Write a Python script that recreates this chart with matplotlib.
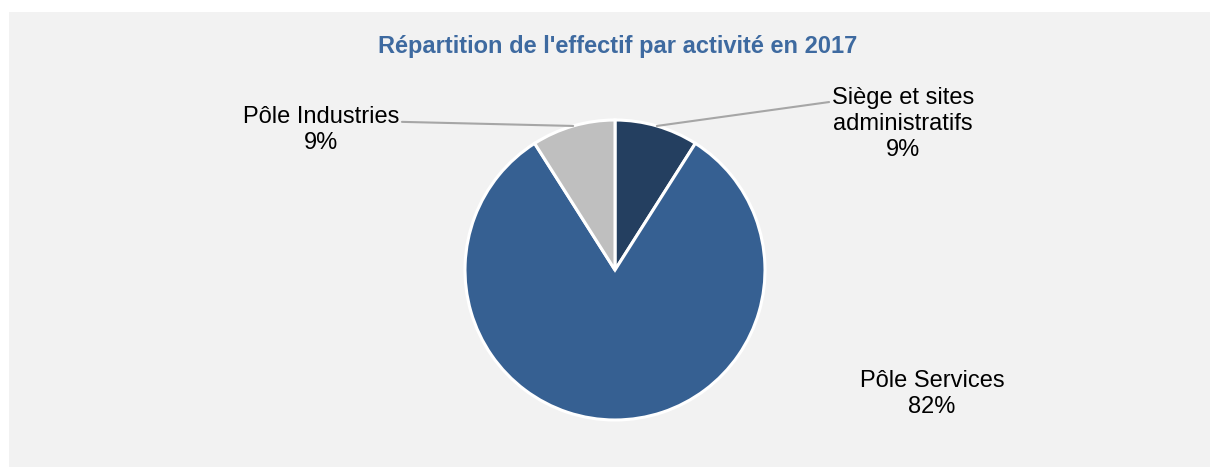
import numpy as np
import matplotlib.pyplot as plt
from matplotlib.patches import Rectangle

labels = ["Siège et sites\nadministratifs", "Pôle Services", "Pôle Industries"]
values = [9, 82, 9]
colors = ["#243F60", "#366092", "#BFBFBF"]
title = "Répartition de l'effectif par activité en 2017"

W, H = 1211, 467
fig = plt.figure(figsize=(W / 100, H / 100), dpi=100)
fig.patch.set_facecolor("white")
plt.rcParams['font.family'] = ['Liberation Sans', 'DejaVu Sans']

# grey chart area
fig.patches.append(Rectangle((9 / W, 0), (1210 - 9) / W, (H - 12) / H,
                             transform=fig.transFigure, facecolor="#F2F2F2",
                             edgecolor="none", zorder=-1))

fig.text(618 / W, 1 - 46 / H, title, ha="center", va="center",
         fontsize=17, fontweight="bold", color="#3E6AA0")

# pie centre (615, 270), radius 150 px
cx, cy, r = 615, 270, 150
ax = fig.add_axes([(cx - r) / W, (H - cy - r) / H, 2 * r / W, 2 * r / H])

wedges, _ = ax.pie(values, colors=colors, startangle=90, counterclock=False,
                   radius=1, wedgeprops=dict(edgecolor="white", linewidth=2.2))
ax.set_xlim(-1, 1)
ax.set_ylim(-1, 1)
ax.axis("off")


def px(x, y):
    return ((x - cx) / r, (cy - y) / r)


fs = 17
# label positions in pixels (centre of text block)
label_pos = [(903, 124), (932, 394), (321, 130)]
texts = [f"{l}\n{v}%" for l, v in zip(labels, values)]

for i, (w, t, pos) in enumerate(zip(wedges, texts, label_pos)):
    mid = np.deg2rad((w.theta1 + w.theta2) / 2)
    edge = (np.cos(mid), np.sin(mid))
    if i == 1:
        ax.text(*px(*pos), t, ha="center", va="center", fontsize=fs,
                linespacing=1.25, clip_on=False)
        continue
    rel = (0, 0.8) if i == 0 else (1, 0.67)
    ax.annotate(t, xy=edge, xytext=px(*pos), ha="center", va="center",
                fontsize=fs, linespacing=1.25, annotation_clip=False,
                arrowprops=dict(arrowstyle="-", color="#A6A6A6", lw=1.5,
                                shrinkA=0, shrinkB=0, relpos=rel))

fig.savefig("out.png", dpi=100, facecolor=fig.get_facecolor())
